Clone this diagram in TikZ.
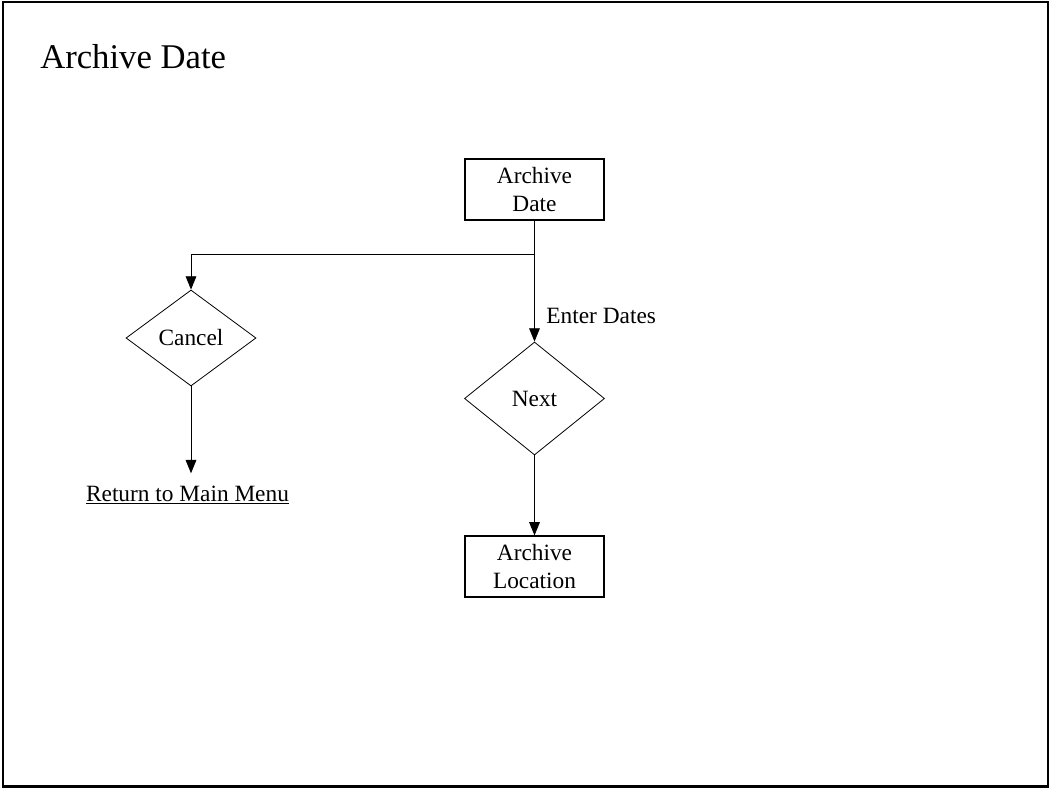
\documentclass[tikz,border=0pt]{standalone}
\usepackage{fontspec}
\setmainfont{Liberation Serif}
\usetikzlibrary{shapes.geometric,arrows.meta}
\begin{document}
\begin{tikzpicture}[x=0.75pt,y=-0.75pt,
  every node/.style={font=\fontsize{17.5}{20.3}\selectfont},
  boxnode/.style={draw,line width=0.8pt,minimum width=104.25pt,minimum height=45.75pt,inner sep=0pt,align=center},
  decision/.style={draw,diamond,line width=0.6pt,inner sep=0pt},
  arr/.style={line width=0.7pt,-{Triangle[length=10pt,width=8pt]}}]
\useasboundingbox (0,0) rectangle (1050,789);
\draw[line width=1.9pt] (3,2) rectangle (1048,786.5);
\node[anchor=base west,inner sep=0pt,font=\fontsize{26}{30}\selectfont] (title) at (40,68) {Archive Date};
\node[boxnode] (ad) at (534.5,189.5) {Archive\\Date};
\node[decision,minimum width=97.5pt,minimum height=72pt] (cancel) at (191,338) {Cancel};
\node[decision,minimum width=105pt,minimum height=84.75pt] (next) at (534.5,398.5) {Next};
\node[boxnode] (al) at (534.5,566.5) {Archive\\Location};
\node[anchor=base,inner xsep=0pt,inner ysep=9pt] (ret) at (187.5,501) {\underline{Return to Main Menu}};
\coordinate (j) at (534.5,254);
\draw[arr] (ad.south) -- (next.north) node[pos=0.85,anchor=base west,inner sep=0pt,xshift=8.6pt] (ed) {Enter Dates};
\draw[arr] (j) -| (cancel.north);
\draw[arr] (cancel.south) -- (cancel.south |- ret.north);
\draw[arr] (next.south) -- (al.north);
\end{tikzpicture}
\end{document}
